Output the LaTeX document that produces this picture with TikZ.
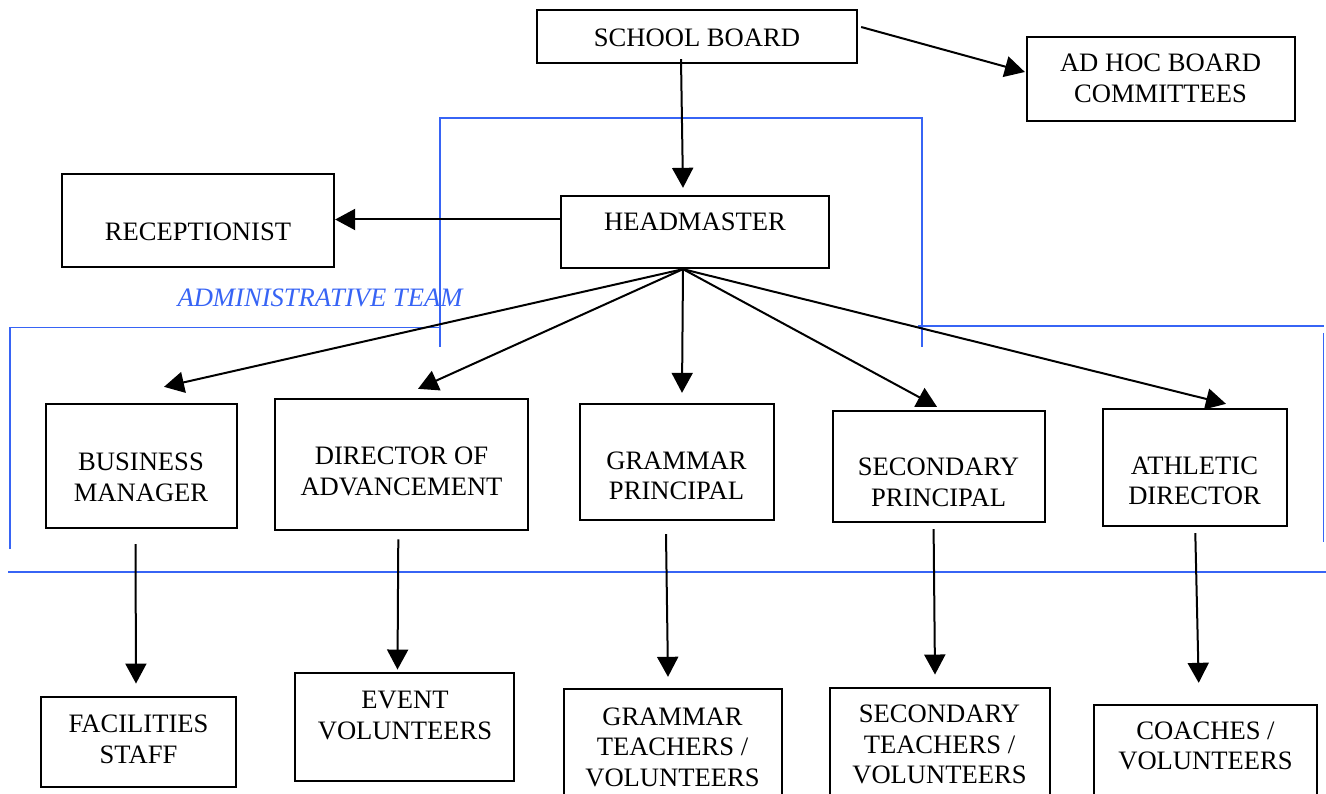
\documentclass[tikz,border=0pt]{standalone}
\usepackage{fontspec}
\setmainfont{Liberation Serif}
\usetikzlibrary{arrows.meta}
\definecolor{teamblue}{RGB}{55,100,245}
\tikzset{
  box/.style={draw=black, line width=2.3pt, rectangle, inner sep=0pt},
  txt/.style={anchor=north, inner sep=0pt, align=center,
    font=\fontsize{26.6}{30.5}\selectfont},
  arr/.style={line width=2pt, -{Triangle[length=20pt,width=21pt]}},
  teamline/.style={draw=teamblue, line width=1.9pt},
}
% a box given by its corners (x1,y1) and (x2,y2), in pixel units, y downwards
\newcommand\orgbox[5]{%
  \node[box, minimum width={(#4)-(#2)}, minimum height={(#5)-(#3)}]
    (#1) at ({((#2)+(#4))/2},{((#3)+(#5))/2}) {};}
\begin{document}
\begin{tikzpicture}[x=1pt, y=-1pt]
\clip (0,0) rectangle (1326,794);
\fill[white] (0,0) rectangle (1326,794);

% administrative team frame
\draw[teamline] (440,347) -- (440,118) -- (922,118) -- (922,347);
\draw[teamline] (10,549) -- (10,327.5) -- (440,327.5);
\draw[teamline] (918,326) -- (1324,326);
\draw[teamline] (1323.5,333) -- (1323.5,542);
\draw[teamline] (8,572) -- (1326,572);
\node[txt, anchor=base, text=teamblue, font=\fontsize{26.6}{30.5}\selectfont\itshape]
  (team) at (320,306.7) {ADMINISTRATIVE TEAM};

% boxes
\orgbox{sb}{537}{10}{857}{63}
\orgbox{ah}{1027}{37}{1295}{121}
\orgbox{rc}{62}{174}{334}{267}
\orgbox{hm}{561}{196}{829}{268}
\orgbox{bm}{46}{404}{237}{528}
\orgbox{dr}{275}{399}{528}{530}
\orgbox{gp}{580}{404}{774}{520}
\orgbox{sp}{833}{411}{1045}{522}
\orgbox{ad}{1103}{409}{1287}{526}
\orgbox{fs}{41}{697}{236}{787}
\orgbox{ev}{295}{673}{514}{781}
\orgbox{gt}{564}{689}{782}{812}
\orgbox{st}{830}{688}{1050}{812}
\orgbox{co}{1094}{705}{1317}{812}

% labels
\node[txt] (sbt) at (697,28.5) {SCHOOL BOARD};
\node[txt] (aht) at (1160.5,54) {AD HOC BOARD\\COMMITTEES};
\node[txt] (rct) at (198,222.5) {RECEPTIONIST};
\node[txt] (hmt) at (695,213) {HEADMASTER};
\node[txt] (bmt) at (141,453) {BUSINESS\\MANAGER};
\node[txt] (drt) at (401.5,447) {DIRECTOR OF\\ADVANCEMENT};
\node[txt] (gpt) at (676.5,451.5) {GRAMMAR\\PRINCIPAL};
\node[txt] (spt) at (938.5,458) {SECONDARY\\PRINCIPAL};
\node[txt] (adt) at (1194.5,456.5) {ATHLETIC\\DIRECTOR};
\node[txt] (fst) at (138.5,715) {FACILITIES\\STAFF};
\node[txt] (evt) at (405,691) {EVENT\\VOLUNTEERS};
\node[txt] (gtt) at (672.5,707.5) {GRAMMAR\\TEACHERS /\\VOLUNTEERS};
\node[txt] (stt) at (939.5,705) {SECONDARY\\TEACHERS /\\VOLUNTEERS};
\node[txt] (cot) at (1205.5,721.5) {COACHES /\\VOLUNTEERS};

% connectors
\draw[arr] ([xshift=-16pt,yshift=5pt]sb.south) -- ([xshift=-12pt,yshift=7pt]hm.north);
\draw[arr] ([xshift=3pt,yshift=9.5pt]sb.east) -- ([xshift=-1pt,yshift=7pt]ah.west);
\draw[arr] ([yshift=12.5pt]hm.west) -- ([yshift=1pt]rc.east);

\draw[arr] ([xshift=-12pt]hm.south) -- ([xshift=22.5pt,yshift=16pt]bm.north);
\draw[arr] ([xshift=-12pt]hm.south) -- ([xshift=16.5pt,yshift=9pt]dr.north);
\draw[arr] ([xshift=-12pt]hm.south) -- ([xshift=5pt,yshift=10pt]gp.north);
\draw[arr] ([xshift=-12pt]hm.south) -- ([xshift=-2pt,yshift=3pt]sp.north);
\draw[arr] ([xshift=-12pt]hm.south) -- ([xshift=31pt,yshift=4pt]ad.north);

\draw[arr] ([xshift=-6pt,yshift=-15pt]bm.south) -- ([xshift=-2.5pt,yshift=12.3pt]fs.north);
\draw[arr] ([xshift=-3.2pt,yshift=-8.3pt]dr.south) -- ([xshift=-7pt,yshift=2.3pt]ev.north);
\draw[arr] ([xshift=-11pt,yshift=-13pt]gp.south) -- ([xshift=-5pt,yshift=11pt]gt.north);
\draw[arr] ([xshift=-5.4pt,yshift=-6pt]sp.south) -- ([xshift=-5pt,yshift=12.3pt]st.north);
\draw[arr] ([xshift=0.3pt,yshift=-6pt]ad.south) -- ([xshift=-6.8pt,yshift=21pt]co.north);
\end{tikzpicture}
\end{document}
